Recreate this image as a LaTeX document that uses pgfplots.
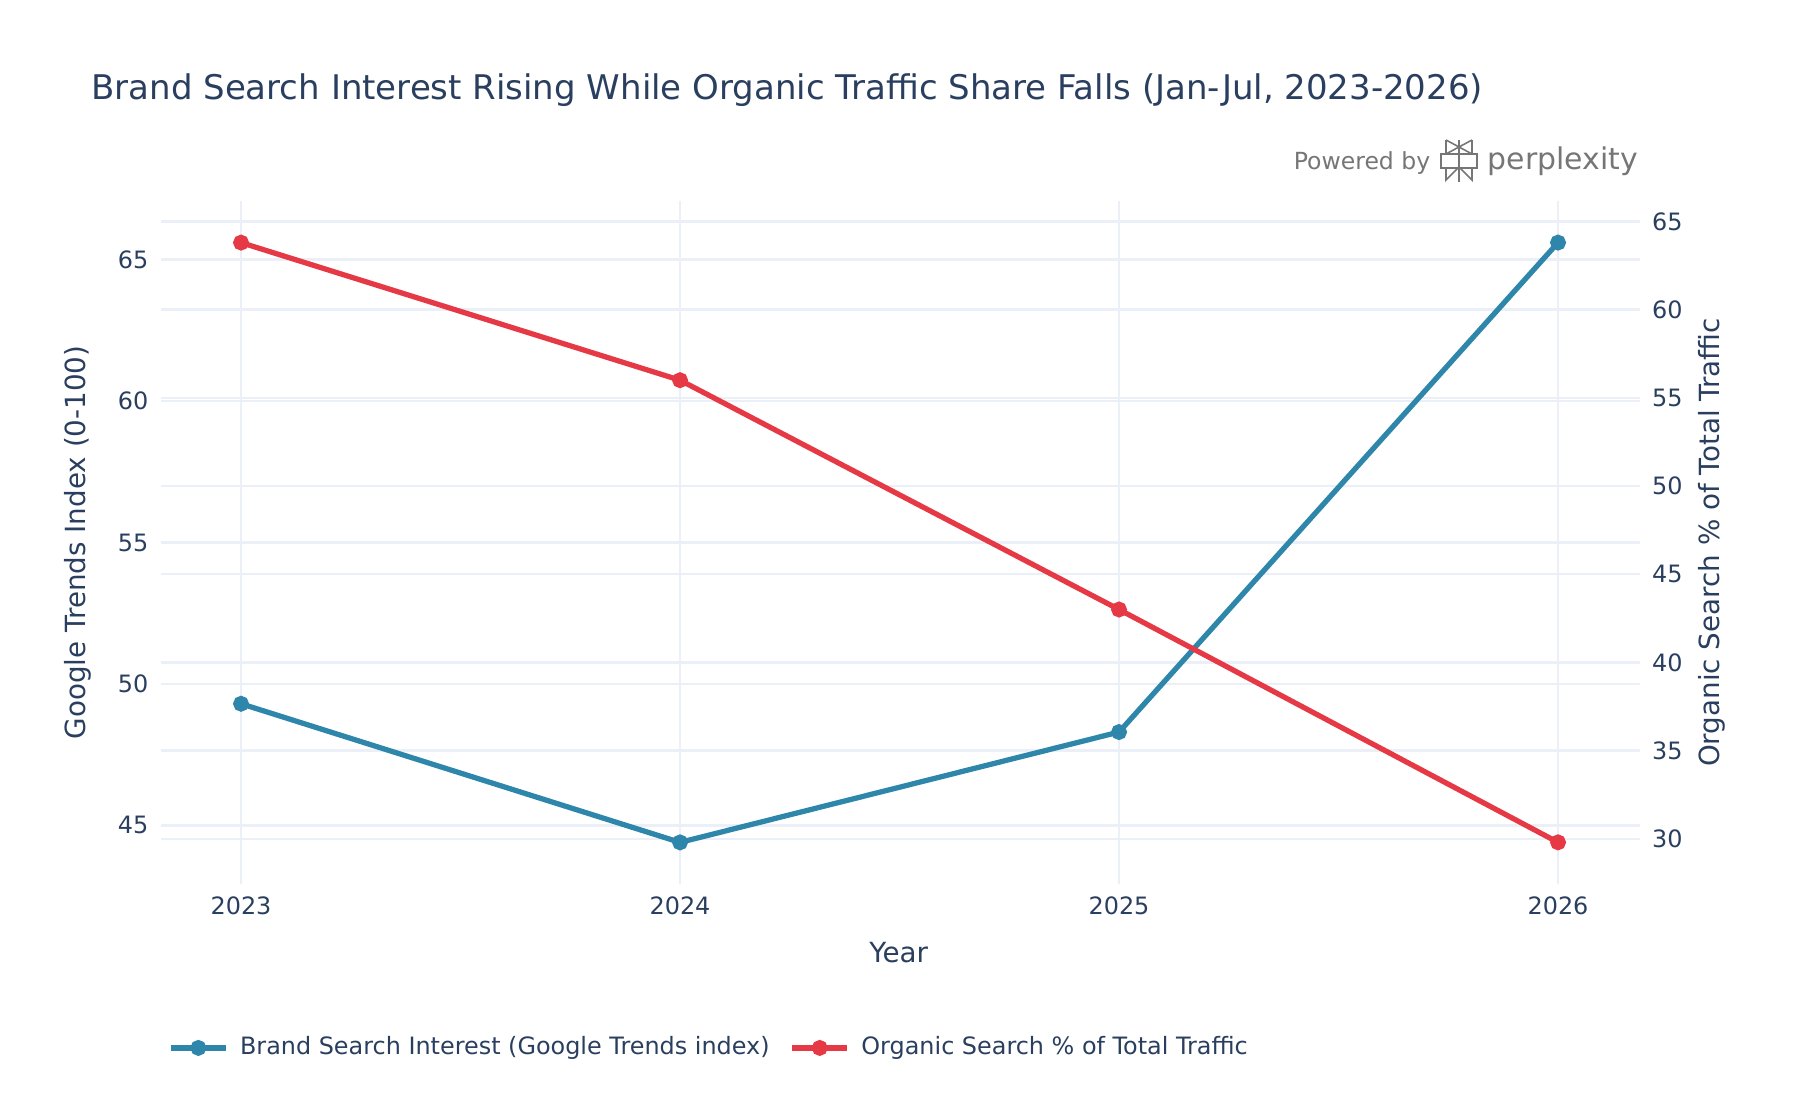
\documentclass[border=0pt]{standalone}
\usepackage{pgfplots}
\pgfplotsset{compat=1.18}
\usepackage{fontspec}
\setmainfont{DejaVu Sans}
\definecolor{txt}{HTML}{2A3F5F}
\definecolor{gridc}{HTML}{EBF0F8}
\definecolor{cblue}{HTML}{2E86AB}
\definecolor{cred}{HTML}{E63946}
\definecolor{logoc}{HTML}{767676}

\pgfplotstableread{
year brand
2023 49.3
2024 44.4
2025 48.3
2026 65.6
}\brandtable
\pgfplotstableread{
year organic
2023 63.8
2024 56.0
2025 43.0
2026 29.8
}\organictable

\pgfplotsset{
 common/.style={
  set layers,
  scale only axis, width=14.79cm, height=6.83cm,
  at={(1.607cm,2.16cm)}, anchor=south west,
  xmin=2022.817, xmax=2026.186,
  axis line style={draw=none},
  major tick length=0pt,
  tick label style={font=\fontsize{6.8}{8}\selectfont, text=txt},
  /pgf/number format/assume math mode=true,
  /pgf/number format/1000 sep={},
  grid style={gridc, line width=0.65pt},
  ymajorgrids,
  label style={font=\fontsize{7.9}{9}\selectfont, text=txt},
 }
}

\begin{document}
\begin{tikzpicture}
\path (0,0) rectangle (18cm,11cm);

\begin{axis}[common,
 ymin=42.93, ymax=67.07, ytick={45,50,55,60,65},
 xtick={2023,2024,2025,2026}, xmajorgrids,
 axis x line*=bottom, axis y line*=left,
 xlabel={Year},
 xlabel style={at={(axis description cs:0.499,-0.101)}, anchor=center},
 ylabel={Google Trends Index (0-100)},
 ylabel style={at={(axis description cs:-0.0559,0.5)}, anchor=center},
 legend columns=2,
 legend style={at={(axis description cs:-0.0025,-0.24)}, anchor=west, draw=none, fill=none,
   font=\fontsize{6.8}{8}\selectfont, text=txt,
   /tikz/every odd column/.append style={column sep=0.045cm},
   /tikz/every even column/.append style={column sep=0.13cm}},
 legend image code/.code={\draw[mark repeat=2,mark phase=2,#1] plot coordinates {(0cm,0cm) (0.275cm,0cm) (0.55cm,0cm)};},
]
\addplot[cblue, line width=1.5pt, mark=*, mark size=1.5pt, mark options={fill=cblue, draw=cblue}] table[x=year, y=brand] {\brandtable};
\addlegendentry{Brand Search Interest (Google Trends index)}
\addlegendimage{cred, line width=1.5pt, mark=*, mark size=1.5pt, mark options={fill=cred, draw=cred}}
\addlegendentry{Organic Search \% of Total Traffic}
\end{axis}

\begin{axis}[common,
 ymin=27.44, ymax=66.16, ytick={30,35,40,45,50,55,60,65},
 axis y line*=right, axis x line*=bottom,
 xtick={2023}, xticklabels={}, 
 ylabel={Organic Search \% of Total Traffic},
 ylabel style={at={(axis description cs:1.0489,0.5)}, anchor=center},
]
\addplot[cred, line width=1.5pt, mark=*, mark size=1.5pt, mark options={fill=cred, draw=cred}] table[x=year, y=organic] {\organictable};
\end{axis}

\node[anchor=west, text=txt, font=\fontsize{9.67}{11}\selectfont, inner sep=0pt] at (0.907cm,10.1cm)
 {Brand Search Interest Rising While Organic Traffic Share Falls (Jan-Jul, 2023-2026)};

% Powered by perplexity
\node[anchor=east, text=logoc, font=\fontsize{6.7}{8}\selectfont, inner sep=0pt] at (14.31cm,9.37cm) {Powered by};
\node[anchor=west, text=logoc, font=\fontsize{8.5}{10}\selectfont, inner sep=0pt] at (14.87cm,9.39cm) {perplexity};
\begin{scope}[shift={(14.59cm,9.39cm)}, draw=logoc, line width=0.45pt, line join=miter]
 \draw (0,-0.21) -- (0,0.21);
 \draw (-0.13,0.21) -- (0.13,0.07) (0.13,0.21) -- (-0.13,0.07);
 \draw (-0.13,0.21) -- (-0.13,0.07) (0.13,0.21) -- (0.13,0.07);
 \draw (-0.18,0.07) rectangle (0.18,-0.07);
 \draw (-0.13,-0.07) -- (-0.13,-0.19) -- (0,-0.06) -- (0.13,-0.19) -- (0.13,-0.07);
\end{scope}
\end{tikzpicture}
\end{document}
